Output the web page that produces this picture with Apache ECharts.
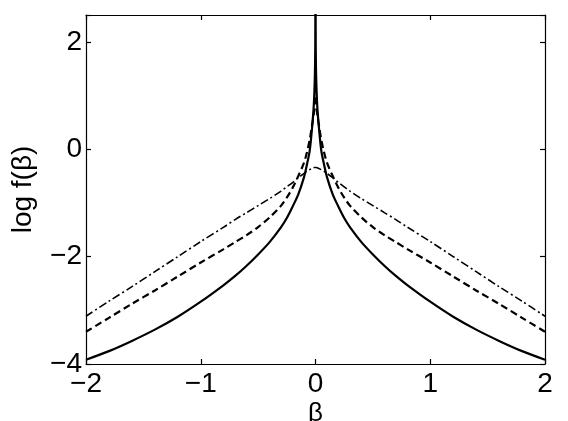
<!DOCTYPE html>
<html>
<head>
<meta charset="utf-8">
<script src="https://cdn.jsdelivr.net/npm/echarts@6/dist/echarts.min.js"></script>
<style>
html,body{margin:0;padding:0;background:#fff;}
#chart{width:568px;height:421px;}
</style>
</head>
<body>
<div id="chart"></div>
<script>
// beta grid (x values)
const betaValues = [-2, -1.8, -1.6, -1.4, -1.2, -1.0, -0.8, -0.7, -0.6, -0.5, -0.4, -0.3, -0.25, -0.2, -0.15, -0.1, -0.075, -0.05, -0.03, -0.02, -0.015, -0.01, -0.005, -0.002, 0,
  0.002, 0.005, 0.01, 0.015, 0.02, 0.03, 0.05, 0.075, 0.1, 0.15, 0.2, 0.25, 0.3, 0.4, 0.5, 0.6, 0.7, 0.8, 1.0, 1.2, 1.4, 1.6, 1.8, 2];
// solid curve
const solidValues = [-3.92, -3.76, -3.57, -3.36, -3.12, -2.84, -2.53, -2.36, -2.17, -1.96, -1.73, -1.45, -1.28, -1.07, -0.84, -0.52, -0.29, -0.02, 0.40, 0.66, 0.82, 1.05, 1.42, 1.90, 3.5,
  1.90, 1.42, 1.05, 0.82, 0.66, 0.40, -0.02, -0.29, -0.52, -0.84, -1.07, -1.28, -1.45, -1.73, -1.96, -2.17, -2.36, -2.53, -2.84, -3.12, -3.36, -3.57, -3.76, -3.92];
// dashed curve
const dashedValues = [-3.40, -3.14, -2.88, -2.63, -2.37, -2.11, -1.86, -1.73, -1.60, -1.45, -1.27, -1.05, -0.90, -0.72, -0.50, -0.25, -0.06, 0.18, 0.45, 0.58, 0.66, 0.75, 0.86, 0.95, 1.0,
  0.95, 0.86, 0.75, 0.66, 0.58, 0.45, 0.18, -0.06, -0.25, -0.50, -0.72, -0.90, -1.05, -1.27, -1.45, -1.60, -1.73, -1.86, -2.11, -2.37, -2.63, -2.88, -3.14, -3.40];
// dash-dot curve
const dashDotValues = [-3.11, -2.83, -2.56, -2.28, -2.00, -1.72, -1.45, -1.31, -1.18, -1.05, -0.92, -0.78, -0.70, -0.62, -0.53, -0.45, -0.41, -0.38, -0.36, -0.35, -0.345, -0.34, -0.34, -0.34, -0.34,
  -0.34, -0.34, -0.34, -0.345, -0.35, -0.36, -0.38, -0.41, -0.45, -0.53, -0.62, -0.70, -0.78, -0.92, -1.05, -1.18, -1.31, -1.45, -1.72, -2.00, -2.28, -2.56, -2.83, -3.11];
const xTicks = [-2, -1, 0, 1, 2];
const yTicks = [-4, -2, 0, 2];

const FONT = 'Liberation Sans, Arial, Helvetica, sans-serif';
function pair(ys){ return betaValues.map((b,i)=>[b, ys[i]]); }
function fmt(v, ticks){
  const t = ticks.find(k => Math.abs(k - v) < 1e-9);
  if (t === undefined) return '';
  return t < 0 ? '\u2212' + Math.abs(t) : String(t);
}
const chart = echarts.init(document.getElementById('chart'), null, {renderer:'canvas'});
const axisCommon = {
  axisLine:{show:true, onZero:false, lineStyle:{color:'#000', width:1.2}},
  axisTick:{show:true, inside:true, length:5, lineStyle:{color:'#000', width:1.2}},
  splitLine:{show:false}
};
chart.setOption({
  animation:false,
  backgroundColor:'#fff',
  grid:{left:86, right:23, top:15, bottom:57, containLabel:false, outerBoundsMode:'none'},
  xAxis:[
    Object.assign({type:'value', min:-2, max:2, interval:1, position:'bottom',
      name:'\u03b2', nameLocation:'middle', nameGap:37, nameMoveOverlap:false,
      nameTextStyle:{fontFamily:FONT, fontSize:26, color:'#000'},
      axisLabel:{show:true, margin:6, fontFamily:FONT, fontSize:28, color:'#000', formatter:v=>fmt(v,xTicks)}}, axisCommon),
    Object.assign({type:'value', min:-2, max:2, interval:1, position:'top', axisLabel:{show:false}}, axisCommon)
  ],
  yAxis:[
    Object.assign({type:'value', min:-4, max:2.5, interval:2, position:'left',
      name:'log f(\u03b2)', nameLocation:'middle', nameGap:49, nameRotate:90, nameMoveOverlap:false,
      nameTextStyle:{fontFamily:FONT, fontSize:28, color:'#000'},
      axisLabel:{show:true, margin:4, fontFamily:FONT, fontSize:28, color:'#000', formatter:v=>fmt(v,yTicks)}}, axisCommon),
    Object.assign({type:'value', min:-4, max:2.5, interval:2, position:'right', axisLabel:{show:false}}, axisCommon)
  ],
  series:[
    {type:'line', data:pair(dashDotValues), showSymbol:false, smooth:0.3, clip:true,
      lineStyle:{color:'#000', width:1.6, type:[8,3,2,3]}},
    {type:'line', data:pair(dashedValues), showSymbol:false, smooth:0.3, clip:true,
      lineStyle:{color:'#000', width:2.2, type:[7,4]}},
    {type:'line', data:pair(solidValues), showSymbol:false, smooth:0.3, clip:true,
      lineStyle:{color:'#000', width:2.2, type:'solid'}}
  ]
});
</script>
</body>
</html>
